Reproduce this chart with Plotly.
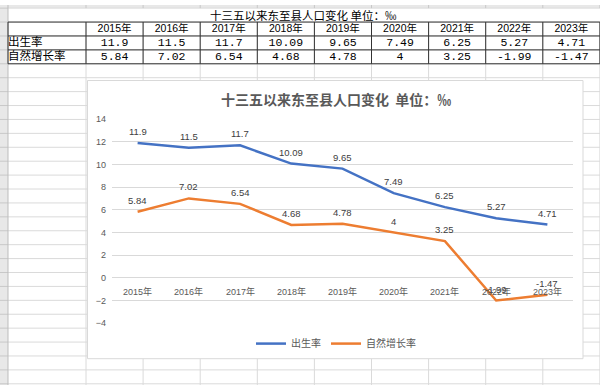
import plotly.graph_objects as go

# ---------------- data ----------------
years = ["2015年", "2016年", "2017年", "2018年", "2019年", "2020年", "2021年", "2022年", "2023年"]
birth_rate = [11.9, 11.5, 11.7, 10.09, 9.65, 7.49, 6.25, 5.27, 4.71]
growth_rate = [5.84, 7.02, 6.54, 4.68, 4.78, 4, 3.25, -1.99, -1.47]
series_names = ["出生率", "自然增长率"]
series_colors = ["#4472C4", "#ED7D31"]
chart_title = "十三五以来东至县人口变化  单位：‰"
sheet_title = "十三五以来东至县人口变化 单位：‰"
y_ticks = [-4, -2, 0, 2, 4, 6, 8, 10, 12, 14]

# ---------------- geometry (pixels) ----------------
W, H = 600, 390


def fx(p):
    return p / W


def fy(p):
    return 1 - p / H


ROWHDR_W = 8
COLHDR_H = 3.2
COL_A_RIGHT = 86
COL_W = 57.1
ROW_H = 14.28
TABLE_TOP = 17.5
ncols = len(years)
col_edges = [COL_A_RIGHT + COL_W * i for i in range(ncols + 1)]
col_centers = [COL_A_RIGHT + COL_W * (i + 0.5) for i in range(ncols)]
row_edges = [COLHDR_H] + [TABLE_TOP + ROW_H * k for k in range(0, 40) if TABLE_TOP + ROW_H * k <= H + 1]
row_center = lambda k: TABLE_TOP + ROW_H * (k + 0.5)
TABLE_BOTTOM = TABLE_TOP + ROW_H * 3

BOX = dict(x0=87.5, x1=583, y0=77.5, y1=363)
PLOT_X = (112, 573)
PLOT_Y = (117.3, 326.7)

GRID = "#DADADA"
HDR_FILL = "#E8E8E8"
TXT = "#595959"
LBL = "#404040"
CJK = "Noto Sans CJK SC"
SANS = "Liberation Sans, Noto Sans CJK SC"
MONO = "Liberation Mono, Noto Sans CJK SC"

fig = go.Figure()

# ---------------- main chart ----------------
for name, vals, color in zip(series_names, [birth_rate, growth_rate], series_colors):
    fig.add_trace(go.Scatter(
        x=years, y=vals, mode="lines", name=name,
        line=dict(color=color, width=2.5),
        xaxis="x", yaxis="y", hoverinfo="skip"))

annotations = []
for vals in [birth_rate, growth_rate]:
    for yr, v in zip(years, vals):
        annotations.append(dict(
            x=yr, y=v, xref="x", yref="y", text=str(v), showarrow=False,
            yanchor="middle", yshift=11.5, borderpad=0,
            font=dict(family=SANS, size=9.5, color=LBL)))
# category labels sitting at the zero line
for yr in years:
    annotations.append(dict(
        x=yr, y=0, xref="x", yref="y", text=yr, showarrow=False,
        yanchor="middle", yshift=-13.5, borderpad=0,
        font=dict(family=SANS, size=9, color=TXT)))
# chart title
annotations.append(dict(
    x=fx(336), y=fy(96), xref="paper", yref="paper", text=chart_title,
    showarrow=False, xanchor="center", yanchor="middle",
    font=dict(family=CJK, size=14, color=TXT, weight="bold")))
# sheet title (merged title row)
annotations.append(dict(
    x=fx((ROWHDR_W + col_edges[-1]) / 2), y=fy((COLHDR_H + TABLE_TOP) / 2),
    xref="paper", yref="paper", text=sheet_title, showarrow=False,
    xanchor="center", yanchor="middle", borderpad=0,
    font=dict(family=CJK, size=11.5, color="#000000")))

# ---------------- worksheet table (cells on a pixel axis) ----------------
fig.add_trace(go.Scatter(
    x=col_centers, y=[row_center(0)] * ncols, mode="text", text=years,
    textposition="middle center", textfont=dict(family=SANS, size=10.5, color="#000"),
    xaxis="x2", yaxis="y2", showlegend=False, hoverinfo="skip"))
for k, vals in enumerate([birth_rate, growth_rate], start=1):
    fig.add_trace(go.Scatter(
        x=col_centers, y=[row_center(k)] * ncols, mode="text",
        text=[str(v) for v in vals], textposition="middle center",
        textfont=dict(family=MONO, size=11.5, color="#000"),
        xaxis="x2", yaxis="y2", showlegend=False, hoverinfo="skip"))
fig.add_trace(go.Scatter(
    x=[ROWHDR_W, ROWHDR_W], y=[row_center(1), row_center(2)], mode="text",
    text=series_names, textposition="middle right",
    textfont=dict(family=CJK, size=11.5, color="#000"),
    xaxis="x2", yaxis="y2", showlegend=False, hoverinfo="skip"))

# ---------------- shapes: sheet grid, chart box, table borders ----------------
shapes = []


def line(x0, y0, x1, y1, color, width=1):
    shapes.append(dict(type="line", xref="paper", yref="paper",
                       x0=fx(x0), x1=fx(x1), y0=fy(y0), y1=fy(y1),
                       line=dict(color=color, width=width), layer="below"))


def rect(x0, y0, x1, y1, fill, lc=None, lw=0):
    shapes.append(dict(type="rect", xref="paper", yref="paper",
                       x0=fx(x0), x1=fx(x1), y0=fy(y0), y1=fy(y1),
                       fillcolor=fill, line=dict(color=lc or fill, width=lw), layer="below"))


# header strips
rect(0, 0, W, COLHDR_H, HDR_FILL)
rect(0, 0, ROWHDR_W, H, HDR_FILL)
# gridlines
for y in row_edges:
    line(ROWHDR_W, y, W, y, GRID)
    line(0, y, ROWHDR_W, y, "#C8C8C8")
for x in col_edges:
    line(x, TABLE_TOP, x, H, GRID)
    line(x, 0, x, COLHDR_H, "#C8C8C8")
line(ROWHDR_W, 0, ROWHDR_W, H, "#BDBDBD")
# chart box
rect(BOX["x0"], BOX["y0"], BOX["x1"], BOX["y1"], "#FFFFFF", "#D9D9D9", 1)
# table borders
for k in range(4):
    y = TABLE_TOP + ROW_H * k
    line(ROWHDR_W, y, col_edges[-1], y, "#333333")
for x in [ROWHDR_W] + col_edges:
    line(x, TABLE_TOP, x, TABLE_BOTTOM, "#333333")

fig.update_layout(
    width=W, height=H,
    margin=dict(l=0, r=0, t=0, b=0),
    paper_bgcolor="#FFFFFF", plot_bgcolor="rgba(0,0,0,0)",
    shapes=shapes, annotations=annotations,
    showlegend=True,
    legend=dict(orientation="h", x=fx(336), y=fy(347.5), xanchor="center", yanchor="middle",
                font=dict(family=CJK, size=10, color=TXT), bgcolor="rgba(0,0,0,0)",
                itemwidth=30),
    xaxis=dict(domain=[fx(PLOT_X[0]), fx(PLOT_X[1])], type="category",
               categoryorder="array", categoryarray=years, range=[-0.5, len(years) - 0.5],
               showticklabels=False, showgrid=False, zeroline=False, showline=False,
               anchor="y", fixedrange=True),
    yaxis=dict(domain=[fy(PLOT_Y[1]), fy(PLOT_Y[0])], range=[y_ticks[0], y_ticks[-1]],
               tickmode="array", tickvals=y_ticks, showgrid=True, gridcolor="#D9D9D9",
               gridwidth=1, zeroline=False, showline=False, ticks="",
               tickfont=dict(family=SANS, size=9, color=TXT), ticklabelstandoff=5,
               anchor="x", fixedrange=True),
    xaxis2=dict(domain=[0, 1], range=[0, W], visible=False, anchor="y2", fixedrange=True),
    yaxis2=dict(domain=[0, 1], range=[H, 0], visible=False, anchor="x2", fixedrange=True),
)

fig.write_html(
    "out.html",
    config={"displayModeBar": False},
    post_script="document.body.style.margin='0';document.body.style.overflow='hidden';",
)
